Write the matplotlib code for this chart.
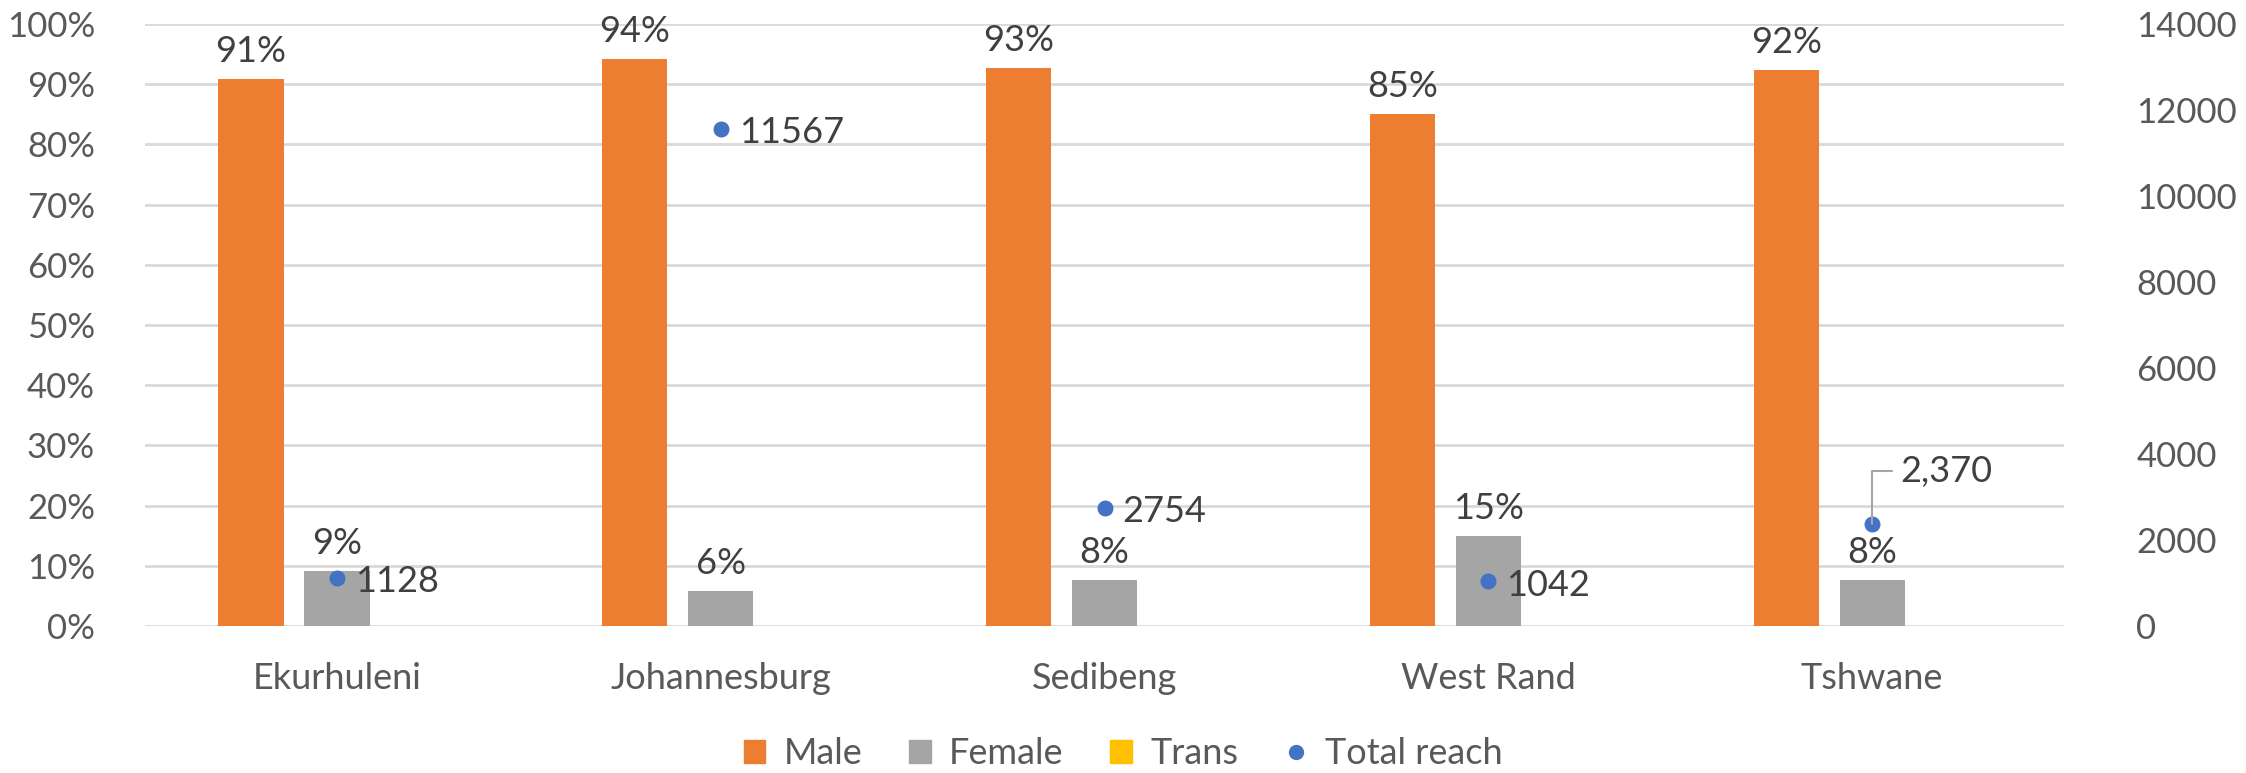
import matplotlib
matplotlib.use("Agg")
import matplotlib.pyplot as plt
import numpy as np
from matplotlib.ticker import PercentFormatter, MultipleLocator
from matplotlib.lines import Line2D
from matplotlib.patches import Patch

categories = ["Ekurhuleni", "Johannesburg", "Sedibeng", "West Rand", "Tshwane"]
male = [90.8, 94.2, 92.7, 85.1, 92.3]
female = [9.2, 5.8, 7.6, 14.9, 7.7]
trans = [0, 0, 0, 0, 0]
total_reach = [1128, 11567, 2754, 1042, 2370]
reach_labels = ["1128", "11567", "2754", "1042", "2,370"]

plt.rcParams['font.family'] = ['Lato', 'DejaVu Sans']

ORANGE = "#ED7D31"
GRAY = "#A5A5A5"
YELLOW = "#FFC000"
BLUE = "#4472C4"
TXT = "#595959"
DTXT = "#404040"

fig = plt.figure(figsize=(22.46, 7.73), dpi=100)
ax = fig.add_axes([0.0646, 0.19, 0.8544, 0.779])
ax2 = ax.twinx()

x = np.arange(len(categories))
w = 0.17
step = 0.224

b1 = ax.bar(x - step, male, w, color=ORANGE, zorder=2)
b2 = ax.bar(x, female, w, color=GRAY, zorder=2)
b3 = ax.bar(x + step, trans, w, color=YELLOW, zorder=2)

for bars, vals in ((b1, male), (b2, female)):
    for r, v in zip(bars, vals):
        ax.annotate(f"{v:.0f}%", (r.get_x() + r.get_width() / 2, r.get_height()),
                    xytext=(0, 8), textcoords="offset points", ha="center", va="bottom",
                    fontsize=26, color=DTXT)

ax.set_ylim(0, 100)
ax.set_xlim(-0.5, len(categories) - 0.5)
ax.yaxis.set_major_locator(MultipleLocator(10))
ax.yaxis.set_major_formatter(PercentFormatter(decimals=0))
ax.grid(axis="y", color="#D9D9D9", linewidth=2, zorder=0)
ax.set_axisbelow(True)
ax.set_xticks(x)
ax.set_xticklabels(categories)
ax.tick_params(axis="x", length=0, pad=26, labelsize=26, labelcolor=TXT)
ax.tick_params(axis="y", length=0, pad=36, labelsize=25, labelcolor=TXT)
for s in ax.spines.values():
    s.set_visible(False)

ax2.scatter(x, total_reach, s=110, color=BLUE, zorder=3)
ax2.set_ylim(0, 14000)
ax2.yaxis.set_major_locator(MultipleLocator(2000))
ax2.tick_params(axis="y", length=0, pad=52, labelsize=25, labelcolor=TXT)
for s in ax2.spines.values():
    s.set_visible(False)

for i, (xi, v, lab) in enumerate(zip(x, total_reach, reach_labels)):
    if lab == "2,370":
        ax2.annotate(lab, (xi, v), xytext=(20, 38), textcoords="offset points",
                     ha="left", va="center", fontsize=26, color=DTXT,
                     arrowprops=dict(arrowstyle="-", color="#A6A6A6", lw=1.5,
                                     relpos=(0, 0.5), shrinkA=4, shrinkB=0,
                                     connectionstyle="angle,angleA=0,angleB=90,rad=0"))
    else:
        ax2.annotate(lab, (xi, v), xytext=(13, -3), textcoords="offset points",
                     ha="left", va="center", fontsize=26, color=DTXT)

handles = [Patch(color=ORANGE, label="Male"), Patch(color=GRAY, label="Female"),
           Patch(color=YELLOW, label="Trans"),
           Line2D([], [], marker="o", linestyle="none", color=BLUE, markersize=10, label="Total reach")]
fig.legend(handles=handles, loc="center", bbox_to_anchor=(0.5, 0.025), ncol=4, frameon=False,
           fontsize=26, labelcolor=TXT, handlelength=0.6, handleheight=0.6, handletextpad=0.5,
           columnspacing=1.3)

fig.savefig("out.png", dpi=100)
